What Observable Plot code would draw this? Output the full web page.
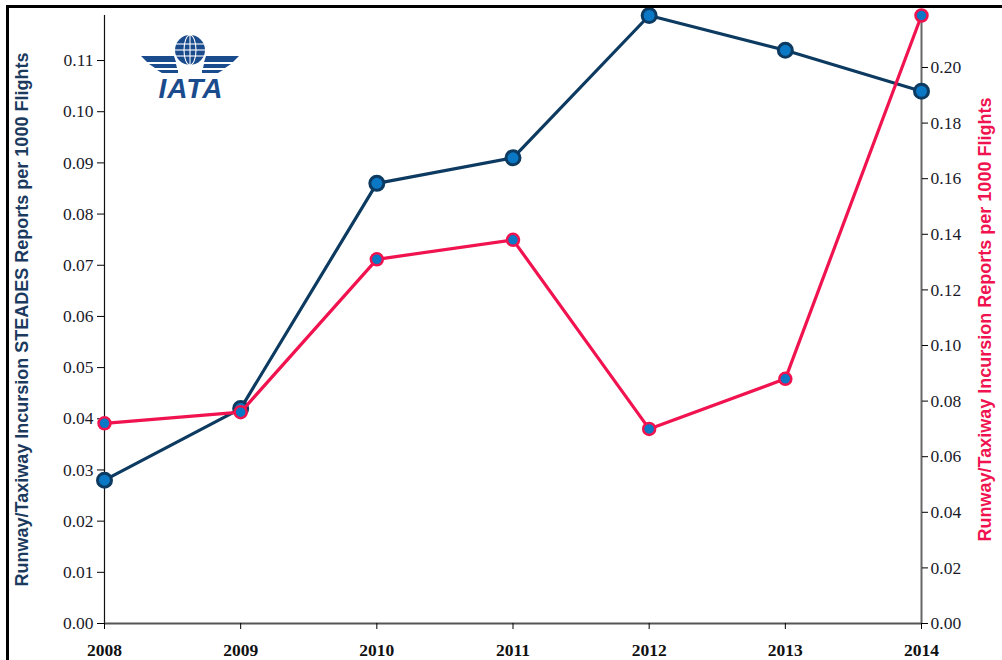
<!DOCTYPE html>
<html>
<head>
<meta charset="utf-8">
<script src="https://cdn.jsdelivr.net/npm/d3@7"></script>
<script src="https://cdn.jsdelivr.net/npm/@observablehq/plot@0.6"></script>
<style>
  html, body { margin: 0; padding: 0; background: #fff; }
  #wrap { position: relative; width: 1002px; height: 660px; overflow: hidden; }
  #frameTop { position: absolute; left: 6px; top: 5px; width: 1000px; height: 3px; background: #000; }
  #frameLeft { position: absolute; left: 6px; top: 5px; width: 3px; height: 660px; background: #000; }
  #logo { position: absolute; left: 138px; top: 33px; }
</style>
</head>
<body>
<div id="wrap">
  <div id="chart"></div>
  <div id="frameTop"></div>
  <div id="frameLeft"></div>
  <svg id="logo" width="106" height="70" viewBox="0 0 106 70">
    <g fill="#1a4b8c" stroke="none">
      <circle cx="52" cy="17" r="15"/>
    </g>
    <g fill="none" stroke="#fff" stroke-width="1.1">
      <ellipse cx="52" cy="17" rx="6" ry="15"/>
      <line x1="52" y1="2" x2="52" y2="32"/>
      <line x1="38" y1="11" x2="66" y2="11"/>
      <line x1="37" y1="17" x2="67" y2="17"/>
      <line x1="38" y1="23" x2="66" y2="23"/>
    </g>
    <g fill="#1a4b8c">
      <polygon points="3,23 36,23 38,29 9,29"/>
      <polygon points="11,31 38,31 39,35 17,35"/>
      <polygon points="19,37 40,37 40,40 24,40"/>
      <polygon points="101,23 68,23 66,29 95,29"/>
      <polygon points="93,31 66,31 65,35 87,35"/>
      <polygon points="85,37 64,37 64,40 80,40"/>
    </g>
    <text x="53" y="65" text-anchor="middle" fill="#1a4b8c" font-family="Liberation Sans, Arial, sans-serif" font-weight="bold" font-style="italic" font-size="28" letter-spacing="1">IATA</text>
  </svg>
</div>
<script>
// ---- data ----
const years = [2008, 2009, 2010, 2011, 2012, 2013, 2014];
const steadesRate = [0.028, 0.042, 0.086, 0.091, 0.1188, 0.112, 0.104];
const reportsRate = [0.072, 0.076, 0.131, 0.138, 0.070, 0.088, 0.2187];
const leftTicks = [0, 0.01, 0.02, 0.03, 0.04, 0.05, 0.06, 0.07, 0.08, 0.09, 0.10, 0.11];
const rightTicks = [0, 0.02, 0.04, 0.06, 0.08, 0.10, 0.12, 0.14, 0.16, 0.18, 0.20];
const leftTitle = "Runway/Taxiway Incursion STEADES Reports per 1000 Flights";
const rightTitle = "Runway/Taxiway Incursion Reports per 1000 Flights";

const leftMax = 0.1188;
const rightMax = 0.2187;
const k = leftMax / rightMax;

const navy = "#0c3a60";
const dotFill = "#0a78c4";
const red = "#f0134f";

const blueData = years.map((y, i) => ({year: y, v: steadesRate[i]}));
const redData = years.map((y, i) => ({year: y, v: reportsRate[i] * k}));

const serif = "'Liberation Serif', 'Times New Roman', serif";
const sans = "'Liberation Sans', Arial, sans-serif";

const chart = Plot.plot({
  width: 1002,
  height: 660,
  marginLeft: 104,
  marginRight: 81,
  marginTop: 15,
  marginBottom: 37,
  style: {fontFamily: serif, fontSize: "17px", background: "transparent", overflow: "visible"},
  x: {domain: [2008, 2014]},
  y: {domain: [0, leftMax]},
  marks: [
    Plot.ruleX([2008], {y1: 0, y2: leftMax, stroke: "#111", strokeWidth: 1.2}),
    Plot.ruleX([2014], {y1: 0, y2: leftMax, stroke: "#666", strokeWidth: 2}),
    Plot.ruleY([0], {stroke: "#555", strokeWidth: 2}),
    Plot.axisX(years, {tickFormat: d => String(d), tickSize: 6, tickPadding: 14, fontWeight: "bold", fontSize: 17.5, fontFamily: serif, fill: "#111", label: null}),
    Plot.axisY(leftTicks, {anchor: "left", tickFormat: d => d.toFixed(2), tickSize: 7, tickPadding: 4, fontSize: 17.5, fontFamily: serif, fill: "#1a1a2a", label: null}),
    Plot.axisY(rightTicks.map(v => v * k), {anchor: "right", tickFormat: d => (d / k).toFixed(2), tickSize: 6, tickPadding: 3, fontSize: 17.5, fontFamily: serif, fill: "#1a1a2a", label: null}),
    Plot.text([leftTitle], {frameAnchor: "left", textAnchor: "middle", dx: -82, rotate: -90, fontFamily: sans, fontWeight: "bold", fontSize: 18, fill: "#1b3a5e"}),
    Plot.text([rightTitle], {frameAnchor: "right", textAnchor: "middle", dx: 64, rotate: -90, fontFamily: sans, fontWeight: "bold", fontSize: 18, fill: red}),
    Plot.line(blueData, {x: "year", y: "v", stroke: navy, strokeWidth: 3.2}),
    Plot.dot(blueData, {x: "year", y: "v", r: 7, fill: dotFill, stroke: navy, strokeWidth: 3}),
    Plot.line(redData, {x: "year", y: "v", stroke: red, strokeWidth: 3.2}),
    Plot.dot(redData, {x: "year", y: "v", r: 6, fill: dotFill, stroke: red, strokeWidth: 2.5})
  ]
});
document.getElementById("chart").appendChild(chart);
</script>
</body>
</html>
